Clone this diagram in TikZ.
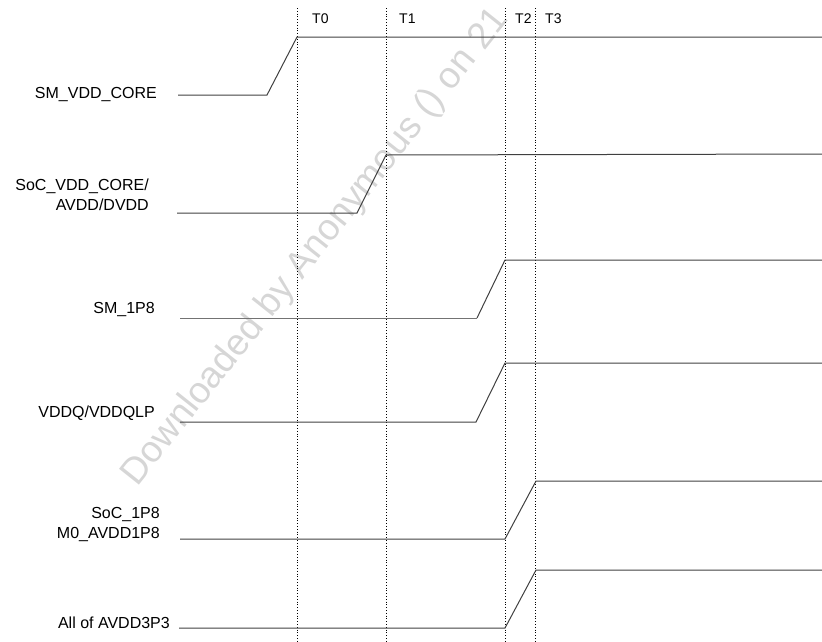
\documentclass[tikz,border=0pt]{standalone}
\usepackage{fontspec}
\setmainfont{Liberation Sans}

\tikzset{
  wave/.style={line width=1pt, black!75},
  marker/.style={black, line width=0.8pt, dash pattern=on 0.8pt off 2pt},
  sig/.style={anchor=east, align=right, inner sep=0pt, font=\fontsize{16}{20}\selectfont},
  tlabel/.style={anchor=west, inner sep=0pt, font=\fontsize{14}{16}\selectfont}
}

\begin{document}
\begin{tikzpicture}[x=1pt, y=-1pt]
            \useasboundingbox (0,0) rectangle (822,641);
            % ==== WATERMARK ====
            \begin{scope}
              \clip (0,0) rectangle (822,641);
              \node[text=black!16, rotate=51.5, anchor=base west, inner sep=0pt, font=\fontsize{37}{40}\selectfont] (wm) at (137,488) {Downloaded by Anonymous () on 21};
            \end{scope}

            % ==== TIME MARKERS ====
            \draw[marker] (297,8) -- (297,641);
            \draw[marker] (386,8) -- (386,641);
            \draw[marker] (505,8) -- (505,641);
            \draw[marker] (535,8) -- (535,641);
            \node[tlabel] (T0) at (312,19) {T0};
            \node[tlabel] (T1) at (399,19) {T1};
            \node[tlabel] (T2) at (515,19) {T2};
            \node[tlabel] (T3) at (545,19) {T3};

            % ==== SIGNAL NAMES ====
            \node[sig] (smcore) at (157,94) {SM\_VDD\_CORE};
            \node[sig] (soccore) at (149,195) {SoC\_VDD\_CORE/\\AVDD/DVDD};
            \node[sig] (sm1p8) at (155,309) {SM\_1P8};
            \node[sig] (vddq) at (155,413) {VDDQ/VDDQLP};
            \node[sig] (soc1p8) at (160,524) {SoC\_1P8\\M0\_AVDD1P8};
            \node[sig] (avdd) at (170,623) {All of AVDD3P3};

            % ==== WAVEFORMS ====
            \draw[wave] (178,95) -- (267,95) -- (297,37) -- (822,37);
            \draw[wave] (177,213) -- (357,213) -- (386,155) -- (822,154);
            \draw[wave, black!55, line width=0.8pt] (180,318) -- (477,318);
            \draw[wave] (477,318) -- (505,260) -- (822,260);
            \draw[wave] (180,422) -- (476,422) -- (505,363) -- (822,363);
            \draw[wave] (180,539) -- (505,539) -- (536,481) -- (822,481);
            \draw[wave] (179,628) -- (505,628) -- (536,570) -- (822,570);
\end{tikzpicture}
\end{document}
